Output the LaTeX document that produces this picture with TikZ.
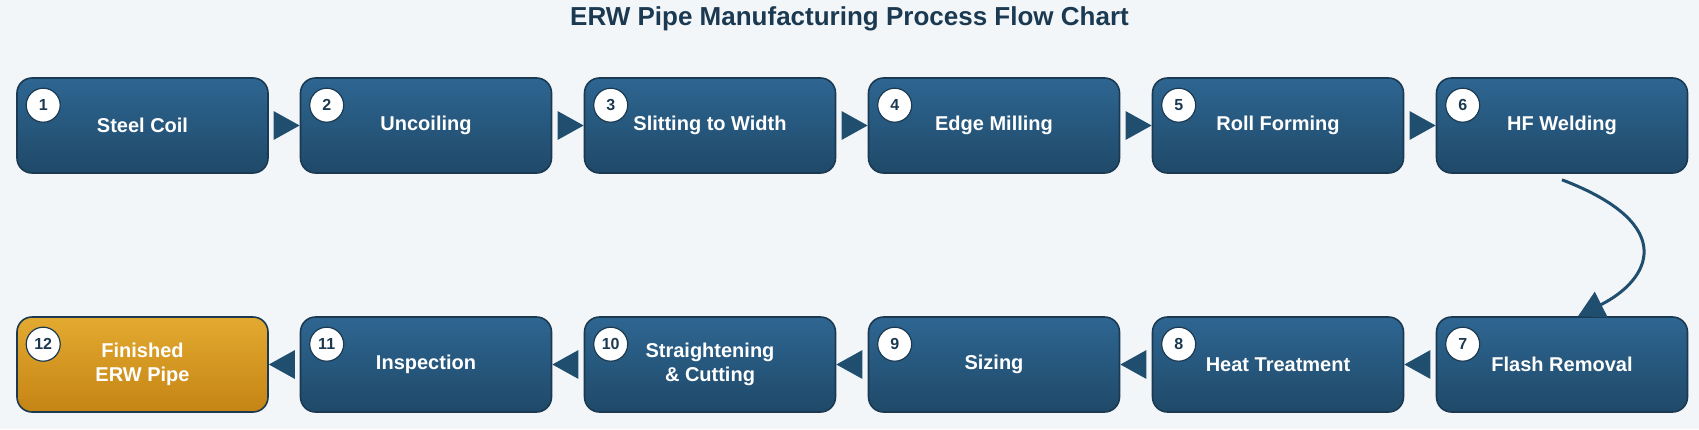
\documentclass[tikz,border=0pt]{standalone}
\usepackage{fontspec}
\setmainfont{Liberation Sans}
\usetikzlibrary{positioning}
\usetikzlibrary{arrows.meta}
\definecolor{bgc}{HTML}{F3F6F9}
\definecolor{boxtop}{HTML}{2E6692}
\definecolor{boxbot}{HTML}{1F4968}
\definecolor{edge}{HTML}{1B3A52}
\definecolor{goldtop}{HTML}{E3AA30}
\definecolor{goldbot}{HTML}{C58414}
\definecolor{flow}{HTML}{1F4E6E}
\begin{document}
\begin{tikzpicture}[x=0.5pt,y=-0.5pt,
    stepnode/.style={rectangle, rounded corners=7.5pt, draw=edge, line width=0.8pt, top color=boxtop, bottom color=boxbot, minimum width=125.5pt, minimum height=47.5pt, text=white, font=\bfseries\fontsize{10}{12}\selectfont, align=center},
    finalnode/.style={stepnode, top color=goldtop, bottom color=goldbot},
    numnode/.style={circle, draw=edge, line width=0.6pt, fill=white, minimum size=17pt, inner sep=0pt, text=edge, font=\bfseries\fontsize{8}{9}\selectfont},
    flowarrow/.style={draw=flow, line width=1.5pt, -{Triangle[length=13pt,width=14pt]}},
  ]
  \fill[bgc] (0,0) rectangle (1699,429);
  \node[text=edge, font=\bfseries\fontsize{13}{15}\selectfont] (title) at (849.5,19) {ERW Pipe Manufacturing Process Flow Chart};
  %Nodes
  \node[stepnode] (s1) at (142.5,125.5) {Steel Coil};
  \node[stepnode] (s2) at (426,125.5) {Uncoiling};
  \node[stepnode] (s3) at (710,125.5) {Slitting to Width};
  \node[stepnode] (s4) at (994,125.5) {Edge Milling};
  \node[stepnode] (s5) at (1278,125.5) {Roll Forming};
  \node[stepnode] (s6) at (1562,125.5) {HF Welding};
  \node[stepnode] (s7) at (1562,364.5) {Flash Removal};
  \node[stepnode] (s8) at (1278,364.5) {Heat Treatment};
  \node[stepnode] (s9) at (994,364.5) {Sizing};
  \node[stepnode] (s10) at (710,364.5) {Straightening\\\& Cutting};
  \node[stepnode] (s11) at (426,364.5) {Inspection};
  \node[finalnode] (s12) at (142.5,364.5) {Finished\\ERW Pipe};
  %Numbers
  \foreach \i in {1,...,12}
    \node[numnode] (n\i) at ([xshift=13.5pt,yshift=-14pt]s\i.north west) {\i};
  %Lines
  \foreach \a/\b in {1/2,2/3,3/4,4/5,5/6}
    \draw[flowarrow] ([xshift=4pt]s\a.east) -- (s\b.west);
  \foreach \a/\b in {7/8,8/9,9/10,10/11,11/12}
    \draw[flowarrow] ([xshift=-4pt]s\a.west) -- (s\b.east);
  \draw[flowarrow] ([yshift=-3pt]s6.south) .. controls (1680,225) and (1650,280) .. ([xshift=8pt]s7.north);
\end{tikzpicture}
\end{document}
